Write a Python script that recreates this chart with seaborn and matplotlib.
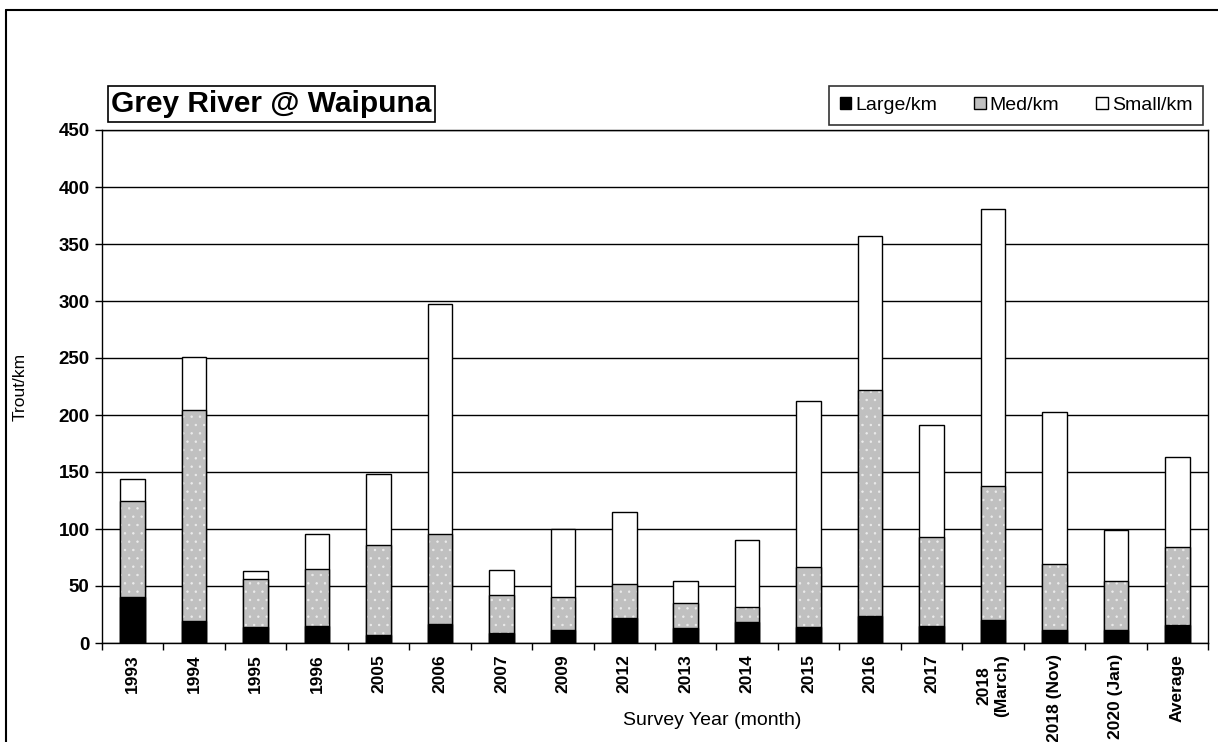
import matplotlib
matplotlib.use("Agg")
import numpy as np
import pandas as pd
import matplotlib.pyplot as plt
import seaborn as sns
from matplotlib.patches import Patch
from matplotlib.lines import Line2D

# trout per km by survey
surveys = ["1993", "1994", "1995", "1996", "2005", "2006", "2007", "2009", "2012",
           "2013", "2014", "2015", "2016", "2017", "2018\n(March)", "2018 (Nov)",
           "2020 (Jan)", "Average"]
large = [40, 19, 14, 15, 7, 17, 9, 11, 22, 13, 18, 14, 24, 15, 20, 11, 11, 16]
med = [85, 185, 42, 50, 79, 79, 33, 29, 30, 22, 14, 53, 198, 78, 118, 58, 43, 68]
small = [19, 47, 7, 31, 62, 201, 22, 60, 63, 19, 58, 145, 135, 98, 243, 134, 45, 79]

df = pd.DataFrame({"survey": surveys, "large": large, "med": med, "small": small})
df["large_med"] = df["large"] + df["med"]
df["total"] = df["large_med"] + df["small"]

sns.set_theme(style="white")
plt.rcParams["font.family"] = ["Liberation Sans", "DejaVu Sans"]
plt.rcParams["hatch.linewidth"] = 0.5
for k in ["text.color", "axes.labelcolor", "xtick.color", "ytick.color"]:
    plt.rcParams[k] = "black"

fig = plt.figure(figsize=(12.18, 7.42), dpi=100)
ax = fig.add_axes([102 / 1218, 99 / 742, 1106 / 1218, 513 / 742])

gray = "#c0c0c0"
# stacked bars drawn as overlapping totals
sns.barplot(data=df, x="survey", y="total", color="white", edgecolor="black",
            linewidth=1, width=0.4, saturation=1, ax=ax)
sns.barplot(data=df, x="survey", y="large_med", color=gray, edgecolor="#ececec",
            linewidth=0, hatch="..", width=0.4, saturation=1, ax=ax)
sns.barplot(data=df, x="survey", y="large_med", color="black", fill=False,
            linewidth=1, width=0.4, saturation=1, ax=ax)
sns.barplot(data=df, x="survey", y="large", color="black", edgecolor="black",
            linewidth=1, width=0.4, saturation=1, ax=ax)

ax.set_ylim(0, 450)
ax.set_yticks(np.arange(0, 451, 50))
ax.set_xlim(-0.5, len(surveys) - 0.5)
ax.set_axisbelow(True)
ax.yaxis.grid(True, color="black", linewidth=1)
for s in ax.spines.values():
    s.set_color("black")
    s.set_linewidth(1)

ax.set_xticks(np.arange(len(surveys)))
ax.set_xticklabels(surveys, rotation=90, fontsize=12.5, fontweight="bold",
                   multialignment="center")
ax.set_xticks(np.arange(-0.5, len(surveys), 1), minor=True)
ax.tick_params(axis="x", which="major", length=0, pad=8)
ax.tick_params(axis="x", which="minor", length=5, color="black", width=1,
               direction="out", bottom=True)
ax.tick_params(axis="y", length=5, color="black", width=1, direction="out",
               left=True, labelsize=13.5, pad=4)
for t in ax.get_yticklabels():
    t.set_fontweight("bold")

ax.set_xlabel("Survey Year (month)", fontsize=14)
ax.set_ylabel("Trout/km", fontsize=12.5, va="center")
ax.xaxis.set_label_coords(0.5515, -0.135)
ax.yaxis.set_label_coords(-0.074, 0.5)

fig.text(271.5 / 1218, 1 - 104 / 742, "Grey River @ Waipuna", fontsize=21.5,
         fontweight="bold", ha="center", va="center",
         bbox=dict(facecolor="white", edgecolor="black", linewidth=1.2,
                   boxstyle="square,pad=0.12"))

handles = [Patch(facecolor="black", edgecolor="black"),
           Patch(facecolor=gray, edgecolor="black"),
           Patch(facecolor="white", edgecolor="black")]
leg = fig.legend(handles, ["Large/km", "Med/km", "Small/km"], loc="center",
                 bbox_to_anchor=(1016 / 1218, 1 - 105.5 / 742), ncol=3,
                 fontsize=14, frameon=True, fancybox=False, edgecolor="black",
                 handlelength=0.6, handleheight=0.6, handletextpad=0.2,
                 columnspacing=1.9, borderpad=0.55, borderaxespad=0)
leg.get_frame().set_linewidth(1.2)

# outer chart border (left and top edges visible)
fig.add_artist(Line2D([6 / 1218, 6 / 1218], [0, 1 - 10 / 742], color="black",
                      linewidth=1.5, transform=fig.transFigure))
fig.add_artist(Line2D([6 / 1218, 1], [1 - 10 / 742, 1 - 10 / 742], color="black",
                      linewidth=1.5, transform=fig.transFigure))

fig.savefig("out.png", dpi=100, facecolor="white")
